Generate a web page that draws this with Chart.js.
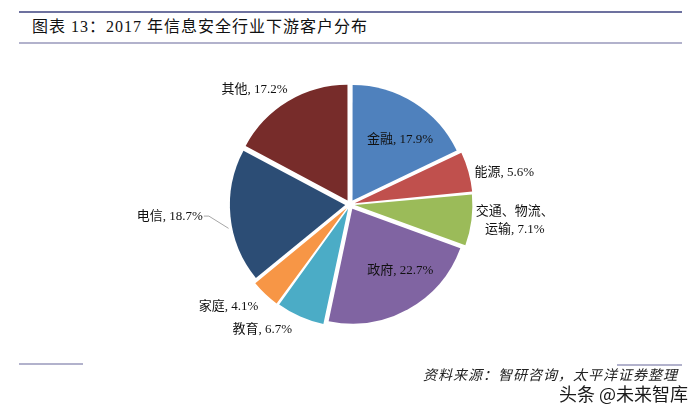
<!DOCTYPE html>
<html lang="zh">
<head>
    <meta charset="UTF-8">
    <title>2017 年信息安全行业下游客户分布</title>
    <script src="https://cdn.jsdelivr.net/npm/chart.js"></script>
    <style>
        body {
            margin: 0;
            padding: 0;
            background: #fff;
            font-family: "Liberation Serif", "Noto Sans CJK SC", serif;
        }
        .page {
            position: relative;
            width: 700px;
            height: 414px;
            overflow: hidden;
        }
        .line {
            position: absolute;
            height: 2px;
        }
        .title {
            position: absolute;
            left: 32px;
            top: 13px;
            font-size: 16px;
            letter-spacing: 1px;
            color: #111;
            white-space: nowrap;
        }
        .source {
            position: absolute;
            left: 423px;
            top: 364px;
            font-size: 14px;
            font-style: italic;
            letter-spacing: 1px;
            color: #222;
            white-space: nowrap;
        }
        .mark {
            position: absolute;
            left: 559px;
            top: 380px;
            font-family: "Noto Sans CJK SC", sans-serif;
            font-size: 18px;
            color: #1a1a1a;
            white-space: nowrap;
        }
        canvas {
            position: absolute;
            left: 0;
            top: 0;
        }
    </style>
</head>
<body>
<div class="page">
    <div class="line" style="left:19px; top:11px; width:663px; background:#6d719f;"></div>
    <div class="line" style="left:19px; top:42px; width:663px; background:#b2b2cc;"></div>
    <div class="title">图表 13：2017 年信息安全行业下游客户分布</div>
    <canvas id="pie" width="700" height="414"></canvas>
    <div class="line" style="left:19px; top:363px; width:64px; background:#b2b2cc;"></div>
    <div class="line" style="left:617px; top:364px; width:65px; background:#b2b2cc;"></div>
    <div class="source">资料来源：智研咨询，太平洋证券整理</div>
    <div class="mark">头条 @未来智库</div>
</div>

<script>
    // 数据
    const categories = ['金融', '能源', '交通、物流、\n运输', '政府', '教育', '家庭', '电信', '其他'];
    const shares = [17.9, 5.6, 7.1, 22.7, 6.7, 4.1, 18.7, 17.2];
    const colors = ['#4F81BD', '#C0504D', '#9BBB59', '#8064A2', '#4BACC6', '#F79646', '#2C4D75', '#772C2A'];

    // 标签位置：[半径倍数, 相对扇区中线的角度偏移(度), 是否有引线]
    const labelPlace = [
        [0.71, 5.6, false],
        [1.37, 3.7, false],
        [1.44, -1.7, false],
        [0.72, -8.4, false],
        [1.33, 11.1, false],
        [1.38, 6.6, false],
        [1.57, 1.9, true],
        [1.30, -8.7, false]
    ];

    const pieLabels = {
        id: 'pieLabels',
        afterDatasetsDraw(chart) {
            const ctx = chart.ctx;
            const arcs = chart.getDatasetMeta(0).data;
            ctx.save();
            ctx.font = '13px "Liberation Serif", "Noto Sans CJK SC"';
            ctx.fillStyle = '#111';
            ctx.textAlign = 'center';
            ctx.textBaseline = 'middle';
            arcs.forEach((arc, i) => {
                const mid = (arc.startAngle + arc.endAngle) / 2;
                const [k, shift, leader] = labelPlace[i];
                const a = mid + shift * Math.PI / 180;
                const x = arc.x + Math.cos(a) * arc.outerRadius * k;
                const y = arc.y + Math.sin(a) * arc.outerRadius * k;
                const text = categories[i] + ', ' + shares[i].toFixed(1) + '%';
                const lines = text.split('\n');
                lines.forEach((ln, j) => {
                    ctx.fillText(ln, x, y + (j - (lines.length - 1) / 2) * 18);
                });
                if (leader) {
                    const w = ctx.measureText(text).width;
                    const ex = arc.x + Math.cos(mid) * (arc.outerRadius + 7);
                    const ey = arc.y + Math.sin(mid) * (arc.outerRadius + 7) + 12;
                    ctx.strokeStyle = '#a6a6a6';
                    ctx.lineWidth = 1;
                    ctx.beginPath();
                    ctx.moveTo(x + w / 2 + 1, y);
                    ctx.lineTo(x + w / 2 + 6, y);
                    ctx.lineTo(ex, ey);
                    ctx.stroke();
                }
            });
            ctx.restore();
        }
    };

    new Chart(document.getElementById('pie').getContext('2d'), {
        type: 'pie',
        data: {
            labels: categories,
            datasets: [{
                data: shares,
                backgroundColor: colors,
                borderWidth: 0,
                offset: 19
            }]
        },
        options: {
            responsive: false,
            animation: false,
            radius: 115,
            layout: { padding: { top: 0, bottom: 5 } },
            plugins: {
                legend: { display: false },
                tooltip: { enabled: false }
            }
        },
        plugins: [pieLabels]
    });
</script>
</body>
</html>
